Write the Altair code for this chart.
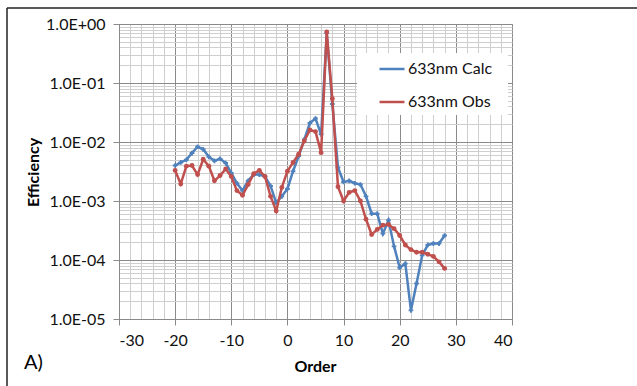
import altair as alt
import pandas as pd

# Diffraction orders and measured / calculated efficiencies at 633 nm
orders = list(range(-20, 29))
calc_633 = [4.0e-3, 4.5e-3, 5.0e-3, 6.5e-3, 8.3e-3, 7.5e-3, 5.6e-3, 4.8e-3, 5.2e-3, 4.4e-3,
            3.0e-3, 2.0e-3, 1.5e-3, 2.2e-3, 2.8e-3, 2.8e-3, 2.6e-3, 1.8e-3, 9.3e-4, 1.2e-3,
            1.6e-3, 3.2e-3, 5.8e-3, 1.1e-2, 2.1e-2, 2.5e-2, 1.35e-2, 0.70, 0.044, 3.7e-3,
            2.1e-3, 2.2e-3, 2.0e-3, 1.9e-3, 1.2e-3, 6.1e-4, 6.1e-4, 2.8e-4, 4.7e-4, 1.7e-4,
            7.4e-5, 8.7e-5, 1.4e-5, 4.0e-5, 1.2e-4, 1.8e-4, 1.9e-4, 1.9e-4, 2.6e-4]
obs_633 = [3.3e-3, 1.95e-3, 3.9e-3, 4.0e-3, 2.8e-3, 5.1e-3, 3.9e-3, 2.2e-3, 2.7e-3, 3.5e-3,
           2.6e-3, 1.5e-3, 1.25e-3, 1.9e-3, 2.9e-3, 3.3e-3, 2.6e-3, 1.2e-3, 6.8e-4, 1.7e-3,
           3.2e-3, 4.5e-3, 6.2e-3, 1.04e-2, 1.6e-2, 1.5e-2, 6.6e-3, 0.73, 0.054, 1.75e-3,
           1.0e-3, 1.4e-3, 1.5e-3, 1.0e-3, 4.9e-4, 2.7e-4, 3.3e-4, 3.9e-4, 4.0e-4, 3.4e-4,
           2.6e-4, 1.8e-4, 1.5e-4, 1.35e-4, 1.35e-4, 1.25e-4, 1.15e-4, 9.3e-5, 7.2e-5]
series_names = ["633nm Calc", "633nm Obs"]
series_colors = ["#4f81bd", "#c0504d"]

x_ticks = list(range(-30, 41, 2))
y_ticks = [m * 10.0 ** e for e in range(-5, 0) for m in range(1, 10)] + [1.0]

FONT = "Lato"
MAJOR = "#8a8a8a"
MINOR = "#cfcfcf"

calc_df = pd.DataFrame({"Order": orders, "Efficiency": calc_633, "Series": series_names[0]})
obs_df = pd.DataFrame({"Order": orders, "Efficiency": obs_633, "Series": series_names[1]})

is_decade = "abs(log(datum.value)/LN10 - round(log(datum.value)/LN10)) < 1e-6"
y_label = ("(" + is_decade + ") ? ('1.0E' + (round(log(datum.value)/LN10) < 0 ? '-' : '+') + '0' + "
           "abs(round(log(datum.value)/LN10))) : ''")

x_enc = alt.X(
    "Order:Q",
    scale=alt.Scale(domain=[-30, 40], nice=False, zero=False),
    axis=alt.Axis(
        title="Order", values=x_ticks,
        labelExpr="datum.value % 10 === 0 ? '' + datum.value : ''",
        gridColor=alt.condition("datum.value % 10 === 0", alt.value(MAJOR), alt.value(MINOR)),
        tickColor=alt.condition("datum.value % 10 === 0", alt.value(MAJOR), alt.value("transparent")),
        tickSize=6, labelPadding=7, labelFontSize=16, labelFont=FONT, labelColor="#111",
        titleFont=FONT, titleFontSize=16, titleFontWeight="bold", titleColor="#000",
        titleX=196, titleY=47, titleBaseline="middle", domainColor=MAJOR,
    ),
)
y_enc = alt.Y(
    "Efficiency:Q",
    scale=alt.Scale(type="log", domain=[1e-5, 1], nice=False),
    axis=alt.Axis(
        title="Efficiency", values=y_ticks, labelExpr=y_label,
        gridColor=alt.condition(is_decade, alt.value(MAJOR), alt.value(MINOR)),
        tickColor=alt.condition(is_decade, alt.value(MAJOR), alt.value("transparent")),
        tickSize=6, labelPadding=8, labelFontSize=16, labelFont=FONT, labelColor="#111",
        titleFont=FONT, titleFontSize=16, titleFontWeight="bold", titleColor="#000",
        titleX=-86, titleY=148, titleAngle=270, titleAlign="center", titleBaseline="middle",
        domainColor=MAJOR,
    ),
)
color_enc = alt.Color(
    "Series:N",
    scale=alt.Scale(domain=series_names, range=series_colors),
    legend=alt.Legend(
        title=None, orient="none", legendX=259, legendY=31,
        symbolType="stroke", symbolSize=625, symbolStrokeWidth=2.5,
        labelFont=FONT, labelFontSize=16, labelColor="#111", labelOffset=2,
        rowPadding=11, padding=0,
    ),
)


def series_layers(df, shape, size):
    line = alt.Chart(df).mark_line(strokeWidth=2.5).encode(x=x_enc, y=y_enc, color=color_enc)
    pts = alt.Chart(df).mark_point(shape=shape, filled=True, size=size, opacity=1).encode(
        x=x_enc, y=y_enc, color=color_enc)
    return [line, pts]


# White box behind the legend
legend_box = alt.Chart(calc_df.head(1)).mark_rect(fill="white").encode(
    x=alt.value(238), x2=alt.value(389), y=alt.value(29), y2=alt.value(91))

# Figure frame (top and left edges) and panel tag
frame_top = alt.Chart(calc_df.head(1)).mark_rule(color="#222", strokeWidth=1.5).encode(
    x=alt.value(-112), x2=alt.value(520), y=alt.value(-16))
frame_left = alt.Chart(calc_df.head(1)).mark_rule(color="#222", strokeWidth=1.5).encode(
    x=alt.value(-112), y=alt.value(-16), y2=alt.value(370))
tag = alt.Chart(pd.DataFrame({"t": ["A)"]})).mark_text(
    font=FONT, fontSize=20, align="left", baseline="middle", color="#000").encode(
    text="t:N", x=alt.value(-95), y=alt.value(339))

chart = alt.layer(
    legend_box,
    *series_layers(calc_df, "cross", 22),
    *series_layers(obs_df, "circle", 24),
    frame_top, frame_left, tag,
).properties(
    width=393, height=295,
    padding={"left": 119, "top": 24, "right": 125, "bottom": 67},
    autosize=alt.AutoSizeParams(type="none"),
    background="white",
).configure_view(stroke=MAJOR)

chart.save("out.html", embed_options={"renderer": "svg", "actions": False})
